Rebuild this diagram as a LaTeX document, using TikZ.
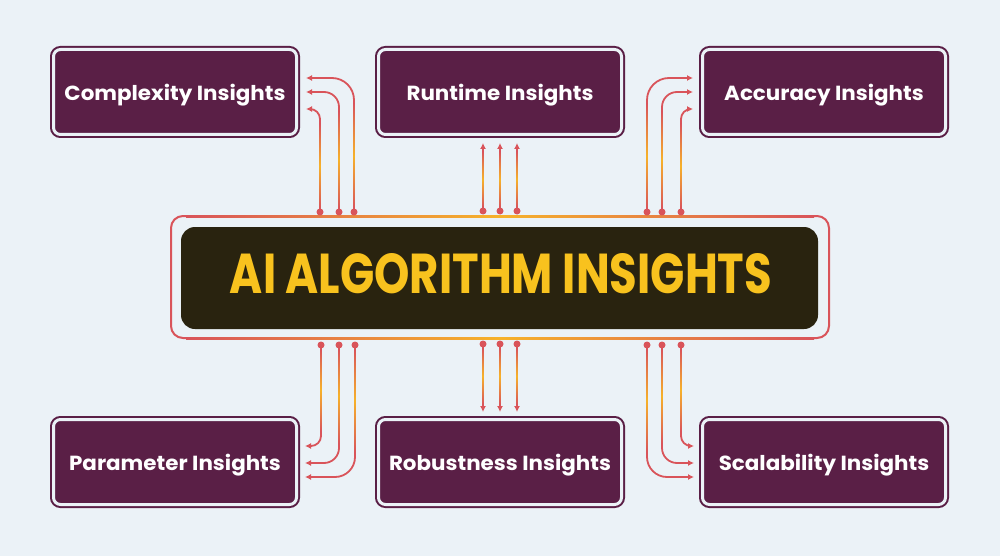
\documentclass[tikz,border=0pt]{standalone}
\usepackage{fontspec}
\setmainfont{Poppins}
\usetikzlibrary{arrows.meta}
\definecolor{bg}{HTML}{EBF2F7}
\definecolor{purp}{HTML}{5A1F46}
\definecolor{dark}{HTML}{29230F}
\definecolor{gold}{HTML}{F8C21E}
\definecolor{lred}{HTML}{D9545A}
\definecolor{lorange}{HTML}{F6B22A}
\newcommand\gline[3]{\shade[top color=lred, bottom color=lred, middle color=lorange] (#1-0.9,#2) rectangle (#1+0.9,#3);}
\newcommand\bt[1]{\scalebox{1.05}[1]{#1}}
\begin{document}
\begin{tikzpicture}[x=1pt,y=-1pt,
  box/.style={draw=purp, fill=purp, line width=2pt, double=bg, double distance=3pt,
    rounded corners=7pt, minimum width=243pt, minimum height=85pt, inner sep=0pt,
    text=white, font=\bfseries\fontsize{20.4pt}{24pt}\selectfont, text depth=0pt},
  conn/.style={draw=lred, line width=1.8pt, -{Latex[length=6pt,width=6pt]}},
  dot/.style={fill=lred},
]
\fill[bg] (0,0) rectangle (1000,556);
\useasboundingbox (0,0) rectangle (1000,556);

% boxes
\node[box] (cx) at (175,92) {\bt{Complexity Insights}};
\node[box] (rt) at (500,92) {\bt{Runtime Insights}};
\node[box] (ac) at (824,92) {\bt{Accuracy Insights}};
\node[box] (pa) at (175,462) {\bt{Parameter Insights}};
\node[box] (ro) at (500,462) {\bt{Robustness Insights}};
\node[box] (sc) at (824,462) {\bt{Scalability Insights}};

% hub
\node[draw=lred, line width=2pt, rounded corners=12pt, minimum width=658pt, minimum height=122pt] (frame) at (500,277) {};
\shade[left color=lred, right color=lred, middle color=lorange] (186,215) rectangle (814,217);
\shade[left color=lred, right color=lred, middle color=lorange] (186,337) rectangle (814,339);
\node[fill=dark, rounded corners=14pt, minimum width=637pt, minimum height=102pt] (hub) at (499.5,278) {};
\node[inner sep=0pt, text=gold, text depth=0pt] (title) at (501,273) {\resizebox{542pt}{40pt}{\bfseries AI ALGORITHM INSIGHTS}};

% coordinates
\coordinate (a1) at (320,212); \coordinate (a1e) at (306,109);
\coordinate (a2) at (339,212); \coordinate (a2e) at (306,92);
\coordinate (a3) at (354,212); \coordinate (a3e) at (306,78);
\coordinate (b1) at (483,211); \coordinate (b1e) at (483,143);
\coordinate (b2) at (500,211); \coordinate (b2e) at (500,143);
\coordinate (b3) at (517,211); \coordinate (b3e) at (517,143);
\coordinate (c1) at (681,212); \coordinate (c1e) at (693,109);
\coordinate (c2) at (662,212); \coordinate (c2e) at (693,92);
\coordinate (c3) at (647,212); \coordinate (c3e) at (693,78);
\coordinate (d1) at (321,345); \coordinate (d1e) at (305,446);
\coordinate (d2) at (339,345); \coordinate (d2e) at (305,463);
\coordinate (d3) at (355,345); \coordinate (d3e) at (305,477);
\coordinate (e1) at (483,344); \coordinate (e1e) at (483,412);
\coordinate (e2) at (500,344); \coordinate (e2e) at (500,412);
\coordinate (e3) at (517,344); \coordinate (e3e) at (517,412);
\coordinate (f1) at (681,345); \coordinate (f1e) at (694,446);
\coordinate (f2) at (662,345); \coordinate (f2e) at (694,463);
\coordinate (f3) at (647,345); \coordinate (f3e) at (694,477);

% connectors
\draw[conn, rounded corners=10pt] (a1) |- (a1e);
\draw[conn, rounded corners=15pt] (a2) |- (a2e);
\draw[conn, rounded corners=22pt] (a3) |- (a3e);
\draw[conn] (b1) -- (b1e);
\draw[conn] (b2) -- (b2e);
\draw[conn] (b3) -- (b3e);
\draw[conn, rounded corners=10pt] (c1) |- (c1e);
\draw[conn, rounded corners=15pt] (c2) |- (c2e);
\draw[conn, rounded corners=22pt] (c3) |- (c3e);
\draw[conn, rounded corners=10pt] (d1) |- (d1e);
\draw[conn, rounded corners=15pt] (d2) |- (d2e);
\draw[conn, rounded corners=20pt] (d3) |- (d3e);
\draw[conn] (e1) -- (e1e);
\draw[conn] (e2) -- (e2e);
\draw[conn] (e3) -- (e3e);
\draw[conn, rounded corners=10pt] (f1) |- (f1e);
\draw[conn, rounded corners=15pt] (f2) |- (f2e);
\draw[conn, rounded corners=20pt] (f3) |- (f3e);

% gradient overlays
\gline{320}{208}{124}
\gline{339}{208}{112}
\gline{354}{208}{104}
\gline{483}{207}{152}
\gline{500}{207}{152}
\gline{517}{207}{152}
\gline{681}{208}{124}
\gline{662}{208}{112}
\gline{647}{208}{104}
\gline{321}{349}{431}
\gline{339}{349}{443}
\gline{355}{349}{452}
\gline{483}{348}{404}
\gline{500}{348}{404}
\gline{517}{348}{404}
\gline{681}{349}{431}
\gline{662}{349}{443}
\gline{647}{349}{452}

% dots
\foreach \p in {a1,a2,a3,b1,b2,b3,c1,c2,c3,d1,d2,d3,e1,e2,e3,f1,f2,f3}
  \fill[dot] (\p) circle[radius=3.5pt];
\end{tikzpicture}
\end{document}
